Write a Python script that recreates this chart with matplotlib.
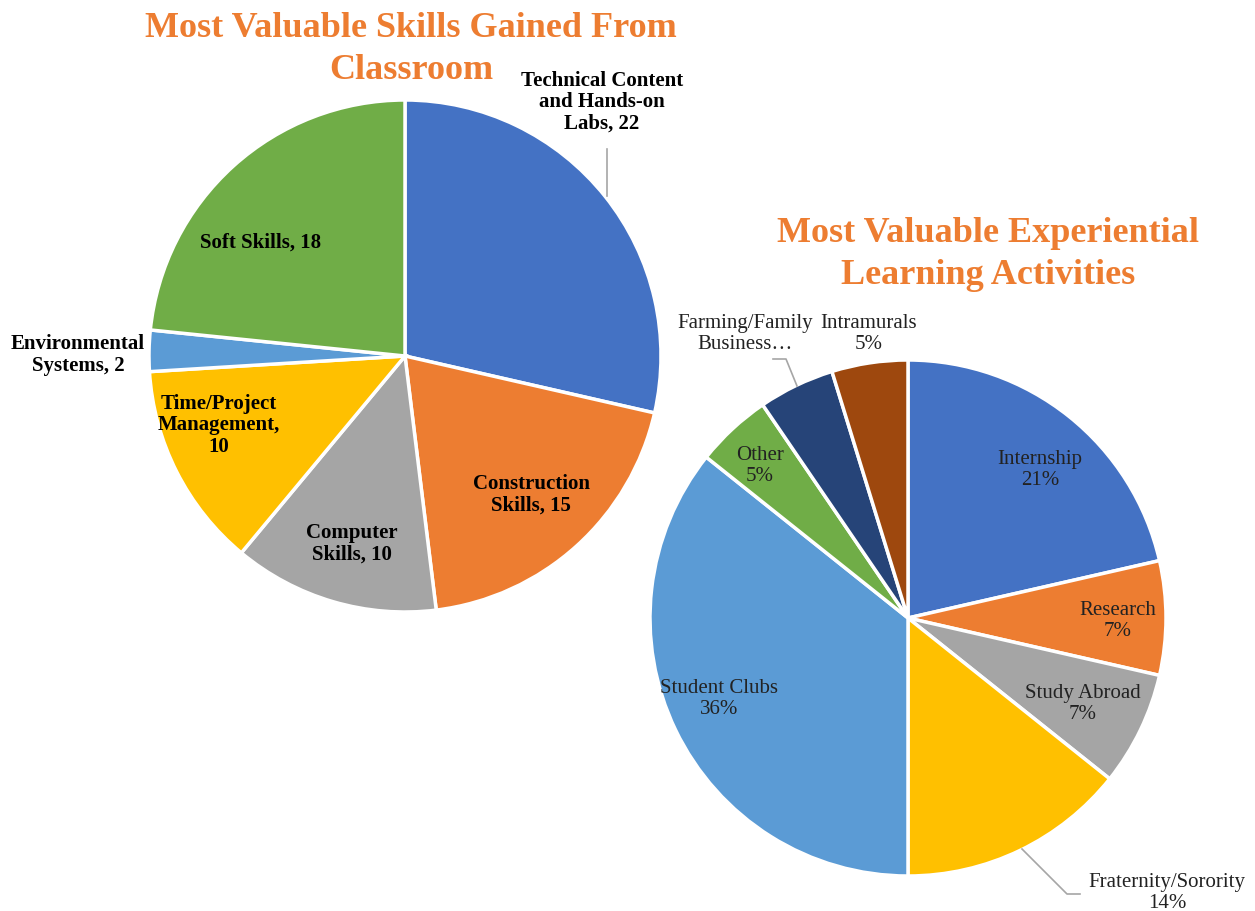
import matplotlib
matplotlib.use("Agg")
import matplotlib.pyplot as plt

# Left pie data
skills = ["Technical Content and Hands-on Labs", "Construction Skills", "Computer Skills",
          "Time/Project Management", "Environmental Systems", "Soft Skills"]
skill_counts = [22, 15, 10, 10, 2, 18]
skill_labels = ["Technical Content\nand Hands-on\nLabs, 22", "Construction\nSkills, 15",
                "Computer\nSkills, 10", "Time/Project\nManagement,\n10",
                "Environmental\nSystems, 2", "Soft Skills, 18"]

# Right pie data
activities = ["Internship", "Research", "Study Abroad", "Fraternity/Sorority",
              "Student Clubs", "Other", "Farming/Family Business", "Intramurals"]
activity_counts = [9, 3, 3, 6, 15, 2, 2, 2]
activity_labels = ["Internship\n21%", "Research\n7%", "Study Abroad\n7%",
                   "Fraternity/Sorority\n14%", "Student Clubs\n36%", "Other\n5%",
                   "Farming/Family\nBusiness…", "Intramurals\n5%"]

title_left = ["Most Valuable Skills Gained From", "Classroom"]
title_right = ["Most Valuable Experiential", "Learning Activities"]

colors_left = ["#4472C4", "#ED7D31", "#A5A5A5", "#FFC000", "#5B9BD5", "#70AD47"]
colors_right = ["#4472C4", "#ED7D31", "#A5A5A5", "#FFC000", "#5B9BD5", "#70AD47",
                "#264478", "#9E480E"]

W, H = 1255, 912
fig = plt.figure(figsize=(W / 100, H / 100), dpi=100)
ax = fig.add_axes([0, 0, 1, 1])

serif = ["Liberation Serif", "DejaVu Serif"]
title_color = "#ED7D31"

def Y(y):
    return H - y

wp = dict(edgecolor="white", linewidth=2.5)
ax.pie(skill_counts, colors=colors_left, startangle=90, counterclock=False,
       center=(405, Y(357)), radius=256, wedgeprops=wp, frame=True)
ax.pie(activity_counts, colors=colors_right, startangle=90, counterclock=False,
       center=(908, Y(619)), radius=258, wedgeprops=wp, frame=True)
ax.set_xlim(0, W)
ax.set_ylim(0, H)
ax.set_aspect("equal")
ax.axis("off")

# Titles (one text per line)
for line, (x, y) in zip(title_left, [(411, 28), (411, 70)]):
    ax.text(x, Y(y), line, ha="center", va="center", fontsize=26, fontweight="bold",
            color=title_color, family=serif)
for line, (x, y) in zip(title_right, [(988, 234), (988, 276)]):
    ax.text(x, Y(y), line, ha="center", va="center", fontsize=26, fontweight="bold",
            color=title_color, family=serif)

# Left labels
left_pos = [(602, 102), (531, 495), (352, 544), (219, 425), (78, 355), (261, 243)]
for lab, (x, y) in zip(skill_labels, left_pos):
    ax.text(x, Y(y), lab, ha="center", va="center", fontsize=15, fontweight="bold",
            color="black", family=serif, linespacing=1.1)

# Right labels
right_pos = [(1040, 470), (1118, 621), (1083, 704), (1167, 893), (719, 699),
             (760, 466), (745, 334), (869, 334)]
for lab, (x, y) in zip(activity_labels, right_pos):
    ax.text(x, Y(y), lab, ha="center", va="center", fontsize=15,
            color="#222222", family=serif, linespacing=1.1)

# Leader lines
lc = "#A6A6A6"
ax.plot([607, 607], [Y(150), Y(197)], color=lc, lw=1.2)
ax.plot([773, 786, 797], [Y(360), Y(360), Y(387)], color=lc, lw=1.2)
ax.plot([1022, 1067, 1080], [Y(850), Y(895), Y(895)], color=lc, lw=1.2)

fig.savefig("out.png", dpi=100)
